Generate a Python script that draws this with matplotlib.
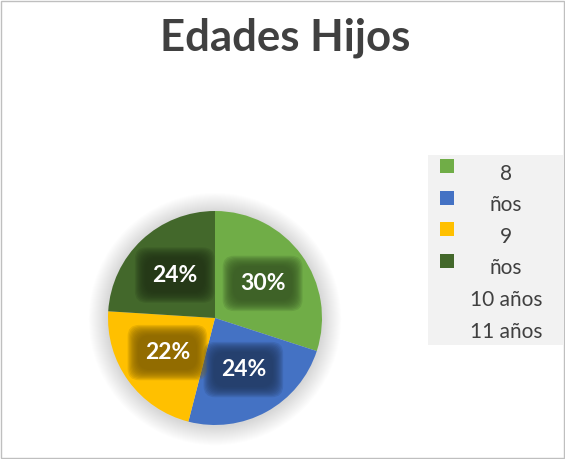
import matplotlib
matplotlib.use("Agg")
import matplotlib.pyplot as plt
from matplotlib.patches import Circle, Rectangle
import matplotlib.colors as mcolors

title = "Edades Hijos"
values = [30, 24, 22, 24]
colors = ["#70ad47", "#4472c4", "#ffc000", "#43682b"]
legend_labels = ["8", "ños", "9", "ños", "10 años", "11 años"]
legend_colors = ["#70ad47", "#4472c4", "#ffc000", "#43682b", None, None]

W, H = 565, 459
fig = plt.figure(figsize=(W / 100, H / 100), dpi=100)
fig.patch.set_facecolor("white")

# figure border
fig.add_artist(Rectangle((0.002, 0.002), 0.996, 0.996, transform=fig.transFigure,
                         fill=False, edgecolor="#bfbfbf", linewidth=1))

fig.text(0.505, 0.918, title, ha="center", va="center", fontsize=31.5,
         fontweight="bold", color="#404040", family=["Lato", "DejaVu Sans"])

cx, cy, r = 215, 318, 107
ax = fig.add_axes([(cx - r) / W, (H - cy - r) / H, 2 * r / W, 2 * r / H])
ax.set_xlim(-1, 1)
ax.set_ylim(-1, 1)
ax.axis("off")

# soft shadow
n = 20
for i in range(n):
    rr = 1.0 + 0.009 * (n - i)
    ax.add_patch(Circle((0.0, -0.01), rr, facecolor="black", alpha=0.008,
                        edgecolor="none", zorder=0, clip_on=False))

wedges, texts, autotexts = ax.pie(values, colors=colors, startangle=90,
                                  counterclock=False, radius=1,
                                  autopct=lambda p: f"{p:.0f}%", pctdistance=0.55,
                                  wedgeprops=dict(linewidth=0),
                                  frame=False)
ax.set_xlim(-1, 1)
ax.set_ylim(-1, 1)

fam = ["Lato", "DejaVu Sans"]
for t, c in zip(autotexts, colors):
    rgb = mcolors.to_rgb(c)
    dark = tuple(v * 0.5 for v in rgb)
    x, y = t.get_position()
    layers = 10
    for k in range(layers):
        pad = 0.75 - 0.05 * k
        ax.text(x, y, t.get_text(), ha="center", va="center", fontsize=16.5,
                fontweight="bold", color="none", family=fam,
                bbox=dict(boxstyle=f"round,pad={pad},rounding_size=0.5",
                          facecolor=dark, edgecolor="none", alpha=0.17),
                zorder=3)
    t.set_fontsize(16.5)
    t.set_fontweight("bold")
    t.set_color("white")
    t.set_family(fam)
    t.set_zorder(5)

# legend box
lx0, ly0, lx1, ly1 = 428, 155, 563, 345
fig.add_artist(Rectangle((lx0 / W, 1 - ly1 / H), (lx1 - lx0) / W, (ly1 - ly0) / H,
                         transform=fig.transFigure, facecolor="#f2f2f2",
                         edgecolor="none"))
step = 31.5
for i, (lab, col) in enumerate(zip(legend_labels, legend_colors)):
    yc = 170 + i * step
    if col is not None:
        fig.add_artist(Rectangle(((447 - 7) / W, 1 - (yc - 4 + 7) / H), 14 / W, 14 / H,
                                 transform=fig.transFigure, facecolor=col,
                                 edgecolor="none"))
    fig.text(506 / W, 1 - (yc + 4) / H, lab, ha="center", va="center", fontsize=15,
             color="#404040", family=fam)

fig.savefig("out.png", dpi=100, facecolor="white")
